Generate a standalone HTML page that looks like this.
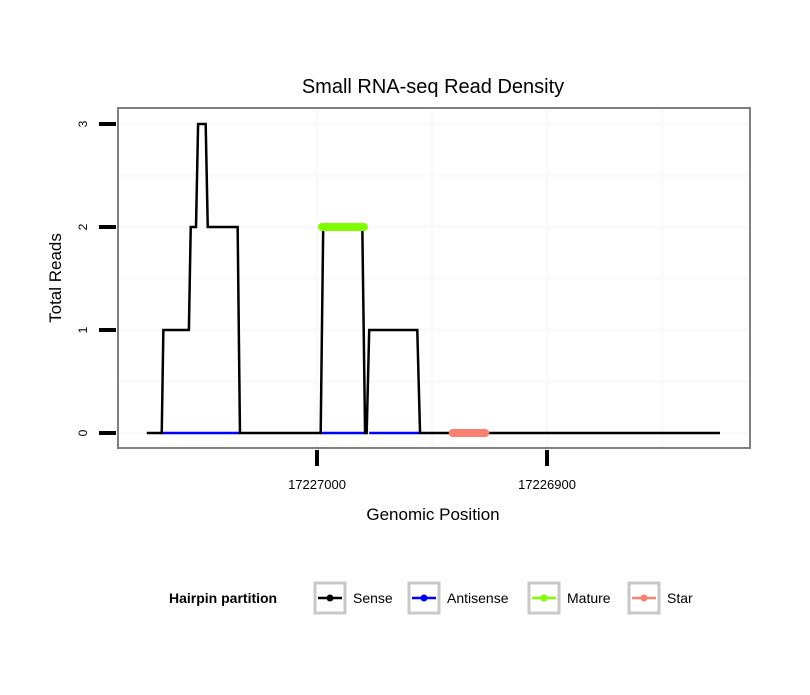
<!DOCTYPE html>
<html><head><meta charset="utf-8"><style>
body{margin:0;background:#fff;font-family:"Liberation Sans",sans-serif}
</style></head><body>
<svg width="810" height="690" xmlns="http://www.w3.org/2000/svg" font-family="Liberation Sans, sans-serif">
<rect width="810" height="690" fill="#fff"/>
<text x="433" y="93" text-anchor="middle" font-size="20">Small RNA-seq Read Density</text>
<g id="grid"></g>
<g id="marks"></g>
<rect x="118" y="108" width="632" height="340" fill="none" stroke="#808080" stroke-width="2"/>
<g id="axes"></g>
<text x="433" y="520" text-anchor="middle" font-size="17">Genomic Position</text>
<text transform="translate(61,278) rotate(-90)" text-anchor="middle" font-size="17">Total Reads</text>
<g id="legend">
<text x="169" y="603" font-size="14" font-weight="bold">Hairpin partition</text>
</g>
</svg>
<script>
const sensePos=[17227074,17227067.5,17227066.8,17227055.7,17227054.9,17227052.6,17227051.7,17227048.4,17227047.5,17227034.5,17227033.5,17226998.4,17226997.3,17226980.3,17226979.1,17226978.4,17226977.3,17226956.4,17226955.2,17226824.8];
const senseReads=[0,0,1,1,2,2,3,3,2,2,0,0,2,2,0,0,1,1,0,0];
const antisenseSegs=[[17227067.5,17227033.5],[17226998.4,17226979.1],[17226977.3,17226955.2]];
const matureSeg=[17226997.8,17226979.6];
const matureReads=2;
const starSeg=[17226941.0,17226926.8];
const starReads=0;
const xTicks=[17227000,17226900];
const xMinor=[17226950,17226850];
const yTicks=[0,1,2,3];
const yMinor=[0.5,1.5,2.5];
const legendLabels=["Sense","Antisense","Mature","Star"];
const legendColors=["#000","#0000ff","#7fff00","#fa8072"];

const NS="http://www.w3.org/2000/svg";
const xS=v=>317-(v-17227000)*2.3;
const yS=v=>433-v*103;
function mk(tag,attrs,parent){const e=document.createElementNS(NS,tag);for(const k in attrs)e.setAttribute(k,attrs[k]);document.getElementById(parent).appendChild(e);return e;}
// grid
[...xTicks,...xMinor].forEach(v=>{const l=mk('line',{x1:xS(v),x2:xS(v),y1:109,y2:447,stroke:'#fafafa','stroke-width':3},'grid');

});
[...yTicks,...yMinor].forEach(v=>{const l=mk('line',{x1:119,x2:749,y1:yS(v),y2:yS(v),stroke:'#fafafa','stroke-width':3},'grid');

});
// antisense
antisenseSegs.forEach(s=>{const l=mk('line',{x1:xS(s[0]),x2:xS(s[1]),y1:yS(0),y2:yS(0),stroke:'#0000ff','stroke-width':2.5},'marks');

});
// sense
const p=mk('polyline',{points:sensePos.map((v,i)=>xS(v)+','+yS(senseReads[i])).join(' '),fill:'none',stroke:'#000','stroke-width':2.5},'marks');


const m=mk('line',{x1:xS(matureSeg[0]),x2:xS(matureSeg[1]),y1:yS(matureReads),y2:yS(matureReads),stroke:'#7fff00','stroke-width':8,'stroke-linecap':'round'},'marks');


const s=mk('line',{x1:xS(starSeg[0]),x2:xS(starSeg[1]),y1:yS(starReads),y2:yS(starReads),stroke:'#fa8072','stroke-width':8,'stroke-linecap':'round'},'marks');


// axes
yTicks.forEach(v=>{const t=mk('line',{x1:99,x2:116,y1:yS(v),y2:yS(v),stroke:'#000','stroke-width':4},'axes');


const tx=mk('text',{transform:`translate(87,${yS(v)}) rotate(-90)`,'text-anchor':'middle','font-size':12},'axes');tx.textContent=v;

});
xTicks.forEach(v=>{const t=mk('line',{x1:xS(v),x2:xS(v),y1:450,y2:466,stroke:'#000','stroke-width':4},'axes');


const tx=mk('text',{x:xS(v),y:489,'text-anchor':'middle','font-size':13},'axes');tx.textContent=v;

});
// legend
const lx=[314,408,528,628];
legendLabels.forEach((lab,i)=>{const x=lx[i];
const b=mk('rect',{x:x+1,y:583,width:30,height:30,fill:'#fff',stroke:'#c8c8c8','stroke-width':3},'legend');


mk('line',{x1:x+4,x2:x+28,y1:598,y2:598,stroke:legendColors[i],'stroke-width':2.5},'legend');
mk('circle',{cx:x+16,cy:598,r:3.5,fill:legendColors[i]},'legend');
const t=mk('text',{x:x+39,y:603,'font-size':14},'legend');t.textContent=lab;

});
</script>
</body></html>
